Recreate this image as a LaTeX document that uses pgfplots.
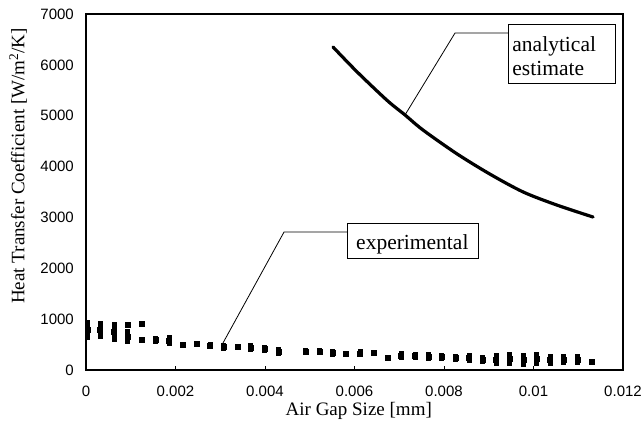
\documentclass[border=0pt]{standalone}
\usepackage{pgfplots}
\usepackage{pgfplotstable}
\pgfplotsset{compat=1.18}
\usepackage{fontspec}
\setmainfont{Liberation Serif}
\newfontfamily\arialf{Liberation Sans}

% measured heat transfer coefficient: gap, centre value, half spread
\pgfplotstableread{
x y err
0.0000335 786 151
0.000313 789 135
0.000626 747 138
0.000932 891 0
0.000932 656 99
0.001236 917 0
0.001236 594 0
0.001549 590 20
0.001855 580 63
0.002161 488 0
0.002465 524 0
0.002771 479 21
0.003068 458 33
0.003381 459 0
0.003687 433 39
0.003993 409 24
0.004306 364 37
0.004916 360 14
0.005213 364 10
0.005513 337 30
0.005810 317 0
0.006123 328 33
0.006420 344 0
0.006742 246 0
0.007039 288 46
0.007352 272 30
0.007649 265 37
0.007949 256 28
0.008261 236 28
0.008559 236 47
0.008865 204 40
0.009162 204 80
0.009459 213 89
0.009770 197 87
0.010071 213 89
0.010369 197 73
0.010666 204 60
0.010979 201 63
0.011301 154 11
}\expdata

% analytical estimate
\pgfplotstableread{
x y
0.00552 6351
0.00606 5860
0.00673 5300
0.00713 5014
0.00753 4719
0.00829 4250
0.00903 3850
0.00977 3500
0.01052 3244
0.01133 3008
}\anadata

\begin{document}
\begin{tikzpicture}
\begin{axis}[
  name=ax,
  scale only axis,
  width=537pt, height=356pt,
  xmin=0, xmax=0.012, ymin=0, ymax=7000,
  clip=false,
  scaled x ticks=false, scaled y ticks=false,
  axis line style={line width=2.2pt},
  xtick={0,0.002,0.004,0.006,0.008,0.010,0.012},
  xticklabels={0,0.002,0.004,0.006,0.008,0.01,0.012},
  ytick={0,1000,2000,3000,4000,5000,6000,7000},
  yticklabels={0,1000,2000,3000,4000,5000,6000,7000},
  xtick pos=bottom, ytick pos=left,
  tick align=inside,
  x tick style={line width=0.8pt, black},
  y tick style={draw=none},
  major tick length=4pt,
  tick label style={font=\arialf\fontsize{15}{18}\selectfont},
  xticklabel style={anchor=north, inner sep=0pt, yshift=-16pt},
  yticklabel style={anchor=east, inner sep=0pt, xshift=-12pt},
  xlabel={Air Gap Size [mm]},
  ylabel={Heat Transfer Coefficient [W/m\textsuperscript{2}/K]},
  label style={font=\fontsize{19}{22}\selectfont},
  xlabel style={at={(axis description cs:0.508,-0.115)}, anchor=center},
  ylabel style={at={(axis description cs:-0.1266,0.573)}, anchor=center},
]
\addplot[black, line width=3.2pt, smooth, line cap=round] table {\anadata};

\addplot[only marks, mark=square*, mark size=2.5pt,
  mark options={draw=none, fill=black},
  error bars/.cd, y dir=both, y explicit, error mark=none,
  error bar style={line width=5pt, line cap=rect, black}]
  table[x=x, y=y, y error=err] {\expdata};

% callout: analytical estimate
\draw[line width=0.8pt] (axis cs:0.009437,6803) rectangle (axis cs:0.011821,5643);
\node[anchor=base west, inner sep=0pt, font=\fontsize{21.5}{24}\selectfont]
  at (axis cs:0.009525,6259) {analytical};
\node[anchor=base west, inner sep=0pt, font=\fontsize{21.5}{24}\selectfont]
  at (axis cs:0.009525,5800) {estimate};
\draw[line width=0.8pt] (axis cs:0.009437,6626) -- (axis cs:0.008246,6626)
  -- (axis cs:0.007128,5014);

% callout: experimental
\draw[line width=0.8pt] (axis cs:0.005832,2891) rectangle (axis cs:0.008760,2202);
\node[anchor=base west, inner sep=0pt, font=\fontsize{21.5}{24}\selectfont]
  at (axis cs:0.006034,2372) {experimental};
\draw[line width=0.8pt] (axis cs:0.005832,2713) -- (axis cs:0.004425,2713)
  -- (axis cs:0.003061,531);
\end{axis}
\pgfresetboundingbox
\path[use as bounding box] ([xshift=-86pt,yshift=-60pt]ax.south west)
  rectangle ([xshift=21pt,yshift=14pt]ax.north east);
\end{tikzpicture}
\end{document}
